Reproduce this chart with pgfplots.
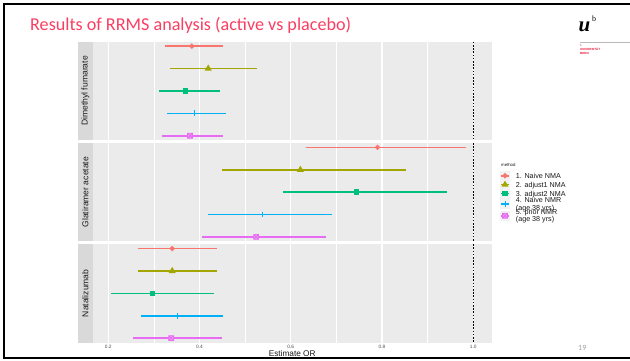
\documentclass[border=0pt]{standalone}
\usepackage{pgfplots}
\pgfplotsset{compat=1.18}
\usepackage{pgfplotstable}
\usepackage{fontspec}
\setmainfont{Carlito}
\newfontfamily\arialf{Liberation Sans}
\newfontfamily\seriff{Liberation Serif}

\definecolor{cA}{HTML}{F8766D}
\definecolor{cB}{HTML}{A3A500}
\definecolor{cC}{HTML}{00BF7D}
\definecolor{cD}{HTML}{00B0F6}
\definecolor{cE}{HTML}{E76BF3}
\definecolor{panelgrey}{HTML}{EBEBEB}
\definecolor{stripgrey}{HTML}{D9D9D9}
\definecolor{keygrey}{HTML}{F2F2F2}
\definecolor{grey10}{HTML}{1A1A1A}
\definecolor{grey30}{HTML}{4D4D4D}
\definecolor{titlered}{RGB}{250,62,98}
\definecolor{bernred}{RGB}{228,20,50}

\pgfdeclareplotmark{sqx}{%
  \pgfpathrectangle{\pgfqpoint{-\pgfplotmarksize}{-\pgfplotmarksize}}{\pgfqpoint{2\pgfplotmarksize}{2\pgfplotmarksize}}%
  \pgfpathmoveto{\pgfqpoint{-\pgfplotmarksize}{-\pgfplotmarksize}}\pgfpathlineto{\pgfqpoint{\pgfplotmarksize}{\pgfplotmarksize}}%
  \pgfpathmoveto{\pgfqpoint{-\pgfplotmarksize}{\pgfplotmarksize}}\pgfpathlineto{\pgfqpoint{\pgfplotmarksize}{-\pgfplotmarksize}}%
  \pgfusepathqfillstroke}

% r = row (1 = 1. Naive NMA ... 5 = 5. prior NMR), e = estimate, l/h = interval
\pgfplotstableread{
r e l h
1 0.383 0.324 0.452
2 0.419 0.336 0.527
3 0.369 0.311 0.445
4 0.389 0.328 0.459
5 0.379 0.318 0.451
}\dmf
\pgfplotstableread{
r e l h
1 0.790 0.634 0.984
2 0.621 0.449 0.852
3 0.744 0.583 0.942
4 0.538 0.419 0.691
5 0.524 0.405 0.677
}\gla
\pgfplotstableread{
r e l h
1 0.340 0.265 0.438
2 0.340 0.264 0.438
3 0.297 0.205 0.431
4 0.351 0.272 0.451
5 0.338 0.255 0.449
}\nat

\pgfplotsset{
  panel/.style={
    scale only axis, width=399bp, height=98.5bp,
    xmin=0.1658, xmax=1.0404, ymin=0.8, ymax=5.2, y dir=reverse,
    axis background/.style={fill=panelgrey},
    axis line style={draw=none},
    major tick length=0pt, minor tick length=0pt,
    ytick=\empty,
    xtick={0.2,0.4,0.6,0.8,1.0}, minor xtick={0.3,0.5,0.7,0.9},
    xmajorgrids, xminorgrids,
    major grid style={white, line width=1.1bp},
    minor grid style={white, line width=0.6bp},
    xticklabels={},
    clip=false,
  },
  mA/.style={mark=*, mark size=1.7bp, mark options={solid}},
  mB/.style={mark=triangle*, mark size=2.5bp, mark options={solid}},
  mC/.style={mark=square*, mark size=2bp, mark options={solid}},
  mD/.style={mark=+, mark size=2.9bp, mark options={solid, line width=1bp}},
  mE/.style={mark=sqx, mark size=2.4bp, mark options={solid, line width=0.8bp, fill=cE!60}},
}
% #1 table, #2 row index, #3 row index + 1, #4 marker style, #5 colour
\newcommand{\meth}[5]{%
  \addplot[#5, line width=1.6bp, #4, forget plot,
    skip coords between index={0}{#2},
    skip coords between index={#3}{5},
    error bars/.cd, x dir=both, x explicit, error mark=none,
    error bar style={line width=1.6bp, draw=#5}]
    table[x=e, y=r, x error plus expr=\thisrow{h}-\thisrow{e},
      x error minus expr=\thisrow{e}-\thisrow{l}] {#1};}
\newcommand{\allmeth}[1]{%
  \meth{#1}{0}{1}{mA}{cA}\meth{#1}{1}{2}{mB}{cB}\meth{#1}{2}{3}{mC}{cC}\meth{#1}{3}{4}{mD}{cD}\meth{#1}{4}{5}{mE}{cE}%
  \addplot[black, line width=0.9bp, dash pattern=on 1.6bp off 1.6bp, forget plot] coordinates {(1,0.8) (1,5.2)};}
\newcommand{\legimg}[2]{\addlegendimage{#1, line width=1.6bp, #2}}
\newcommand{\lone}[1]{\raisebox{0pt}[6.9bp][1.9bp]{#1}}
\newcommand{\ltwo}[2]{\raisebox{0pt}[5.4bp][7.9bp]{\vtop{\baselineskip=7.5bp\hbox{#1}\hbox{#2}}}}

\begin{document}
\begin{tikzpicture}[x=1bp,y=-1bp]
\path[use as bounding box] (0,0) rectangle (630,360);
\fill[white] (0,0) rectangle (630,360);
\draw[line width=2.3bp] (632,3.8) -- (4.2,3.8) -- (4.2,358.3) -- (632,358.3);

\node[anchor=base west, inner sep=0, text=titlered, font=\fontsize{18.2}{20}\selectfont] at (30,30.5) {Results of RRMS analysis (active vs placebo)};

% logo
\node[anchor=base west, inner sep=0, font=\seriff\bfseries\itshape\fontsize{21}{21}\selectfont] at (578.5,31.5) {u};
\node[anchor=base west, inner sep=0, font=\seriff\fontsize{8}{8}\selectfont] at (592,21.5) {b};
\draw[gray!55, line width=1.3bp] (580,42.7) -- (630,42.7);
\node[anchor=west, inner sep=0, text=bernred, font=\arialf\fontsize{2.6}{3}\selectfont] at (580,45.3) {b};
\node[anchor=west, inner sep=0, text=bernred, font=\arialf\bfseries\fontsize{3}{3}\selectfont] at (580,49.4) {UNIVERSITÄT};
\node[anchor=west, inner sep=0, text=bernred, font=\arialf\bfseries\fontsize{3}{3}\selectfont] at (580,53.4) {BERN};

\node[anchor=base west, inner sep=0, text=gray!75, font=\fontsize{8}{8}\selectfont] at (578,350) {19};

\coordinate (p1) at (92.7,41.7);
\coordinate (p2) at (92.7,142.9);
\coordinate (p3) at (92.7,244.1);

% strips
\foreach \t/\lab in {41.7/Dimethyl fumarate,142.9/Glatiramer acetate,244.1/Natalizumab}{
  \fill[stripgrey] (77.7,\t) rectangle (92.7,\t+98.5);
  \node[rotate=90, inner sep=0, text=grey10, font=\arialf\fontsize{8.6}{8.6}\selectfont] at (85.4,\t+49.25) {\lab};
}

\begin{axis}[panel, at={(p1)}, anchor=north west]
\allmeth{\dmf}
\end{axis}

\begin{axis}[panel, at={(p2)}, anchor=north west,
  legend style={at={(1.0208,0.719)}, anchor=north west, draw=none, fill=none,
    inner sep=0pt, outer sep=0pt, row sep=-1.5bp, column sep=0pt,
    font=\arialf\fontsize{7.2}{7.5}\selectfont, text=grey10,
    nodes={inner sep=0pt, outer sep=0pt, text height=, text depth=},
    cells={anchor=west, inner sep=0pt, outer sep=0pt, text height=, text depth=}},
  legend cell align=left,
  legend image code/.code={%
    \fill[keygrey] (0bp,-4.4bp) rectangle (8.4bp,4.4bp);
    \draw[#1] plot[mark repeat=2, mark phase=2] coordinates {(0.2bp,0bp) (4.2bp,0bp) (8.2bp,0bp)};
    \path (14.3bp,0bp);}]
\allmeth{\gla}
\legimg{cA}{mA}\legimg{cB}{mB}\legimg{cC}{mC}\legimg{cD}{mD}\legimg{cE}{mE}
\legend{\lone{1. Naive NMA}, \lone{2. adjust1 NMA}, \lone{3. adjust2 NMA}, \ltwo{4. Naive NMR}{(age 38 yrs)}, \ltwo{5. prior NMR}{(age 38 yrs)}}
\end{axis}

\begin{axis}[panel, at={(p3)}, anchor=north west,
  xticklabels={0.2,0.4,0.6,0.8,1.0},
  xticklabel style={font=\arialf\fontsize{4.8}{5}\selectfont, text=grey30, inner sep=0pt, yshift=-2.2bp}]
\allmeth{\nat}
\end{axis}

\node[inner sep=0, font=\arialf\fontsize{8.3}{8.3}\selectfont, text=grey10] at (292.2,354) {Estimate OR};
\node[anchor=west, inner sep=0, font=\arialf\fontsize{4.3}{5}\selectfont, text=grey10] at (501,165) {method};
\end{tikzpicture}
\end{document}
